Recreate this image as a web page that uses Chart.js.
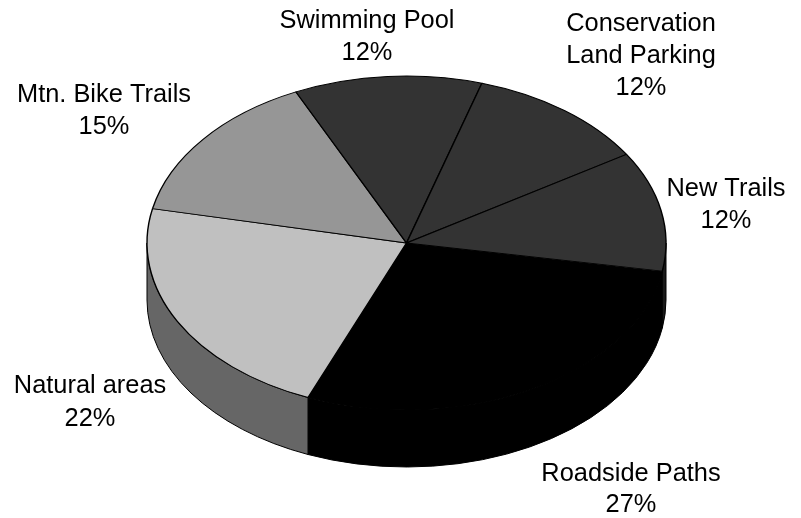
<!DOCTYPE html>
<html>
<head>
<meta charset="utf-8">
<title>Pie chart</title>
<script src="https://cdn.jsdelivr.net/npm/chart.js@4/dist/chart.umd.min.js"></script>
<style>
    html, body { margin: 0; padding: 0; background: #fff; }
    canvas { display: block; }
</style>
</head>
<body>
<canvas id="pie" width="801" height="518"></canvas>
<script>
// the printed percentages
const categories = ['Roadside Paths', 'Natural areas', 'Mtn. Bike Trails', 'Swimming Pool', 'Conservation Land Parking', 'New Trails'];
const percentLabels = ['27%', '22%', '15%', '12%', '12%', '12%'];
// slice sizes as measured from the drawn angles (the 3D perspective of the original
// makes the front slice look bigger than its printed 27%)
const sliceValues = [28.5, 22.1, 14.7, 11.7, 11.4, 11.6];
const topColors = ['#000000', '#c0c0c0', '#969696', '#333333', '#333333', '#333333'];
const wallColors = ['#000000', '#666666', '#4b4b4b', '#191919', '#191919', '#191919'];

// ellipse of the pie top on the page
const centerX = 406.5;
const centerY = 243;
const radiusX = 259.5;
const radiusY = 167;
const depth = 57;
const firstSliceAngle = 9.7; // degrees clockwise from east

// where the label text goes, same order as categories
const labelSpots = [
    { x: 631, y: [474], pctY: 505 },
    { x: 90, y: [386], pctY: 419 },
    { x: 104, y: [95], pctY: 127 },
    { x: 367, y: [21], pctY: 53 },
    { x: 641, y: [24, 56], pctY: 88 },
    { x: 726, y: [189], pctY: 221 }
];
const labelLines = [['Roadside Paths'], ['Natural areas'], ['Mtn. Bike Trails'], ['Swimming Pool'], ['Conservation', 'Land Parking'], ['New Trails']];

// squash the flat pie to an ellipse and draw the side wall under it
const pie3d = {
    id: 'pie3d',
    beforeDatasetsDraw(chart) {
        const ctx = chart.ctx;
        const arcs = chart.getDatasetMeta(0).data;
        ctx.save();
        ctx.lineWidth = 1;
        ctx.strokeStyle = '#000';
        arcs.forEach((arc, i) => {
            // only the part of the rim facing us, 0..PI, has a wall
            [0, Math.PI * 2].forEach(shift => {
                const from = Math.max(arc.startAngle, shift);
                const to = Math.min(arc.endAngle, shift + Math.PI);
                if (from >= to) return;
                ctx.beginPath();
                ctx.ellipse(centerX, centerY, radiusX, radiusY, 0, from, to);
                ctx.ellipse(centerX, centerY + depth, radiusX, radiusY, 0, to, from, true);
                ctx.closePath();
                ctx.fillStyle = wallColors[i];
                ctx.fill();
                ctx.stroke();
            });
        });
        ctx.restore();

        const first = arcs[0];
        ctx.save();
        ctx.translate(centerX, centerY);
        ctx.scale(radiusX / first.outerRadius, radiusY / first.outerRadius);
        ctx.translate(-first.x, -first.y);
    },
    afterDatasetsDraw(chart) {
        const ctx = chart.ctx;
        ctx.restore();

        ctx.save();
        ctx.fillStyle = '#000';
        ctx.font = '25.4px "Liberation Sans", Arial, sans-serif';
        ctx.textAlign = 'center';
        ctx.textBaseline = 'middle';
        labelSpots.forEach((spot, i) => {
            labelLines[i].forEach((line, n) => ctx.fillText(line, spot.x, spot.y[n]));
            ctx.fillText(percentLabels[i], spot.x, spot.pctY);
        });
        ctx.restore();
    }
};

const myChart = new Chart(document.getElementById('pie'), {
    type: 'pie',
    data: {
        labels: categories,
        datasets: [{
            data: sliceValues,
            backgroundColor: topColors,
            borderColor: '#000',
            borderWidth: 1.4
        }]
    },
    options: {
        responsive: false,
        animation: false,
        rotation: 90 + firstSliceAngle,
        plugins: {
            legend: { display: false },
            tooltip: { enabled: false }
        }
    },
    plugins: [pie3d]
});
</script>
</body>
</html>
